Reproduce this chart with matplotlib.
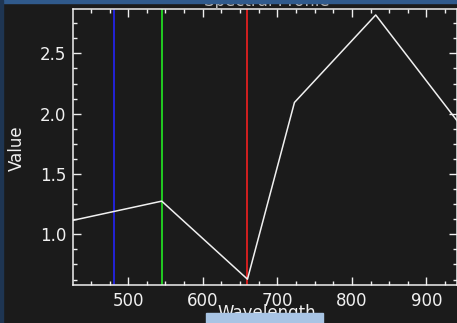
import matplotlib
matplotlib.use("Agg")
import matplotlib.pyplot as plt
from matplotlib.patches import Rectangle
from matplotlib.ticker import MultipleLocator

# spectral profile
wavelength = [426, 545, 660, 723, 832, 941]
value = [1.116, 1.275, 0.628, 2.093, 2.818, 1.942]

# band markers
band_pos = [481, 545, 660]
band_colors = ["#2323d8", "#22cc22", "#d42020"]

W, H = 457, 323
fig = plt.figure(figsize=(W / 100, H / 100), dpi=100)
fig.patch.set_facecolor("#1b1b1b")

ax = fig.add_axes([73 / W, (H - 285) / H, (W - 73) / W, (285 - 9.3) / H])
ax.set_facecolor("#1b1b1b")

for pos, col in zip(band_pos, band_colors):
    ax.axvline(pos, color=col, lw=1.4)
ax.plot(wavelength, value, color="#f0f0f0", lw=1.1)

ax.set_xlim(426, 941)
ax.set_ylim(0.58, 2.865)
ax.xaxis.set_major_locator(MultipleLocator(100))
ax.xaxis.set_minor_locator(MultipleLocator(25))
ax.yaxis.set_major_locator(MultipleLocator(0.5))
ax.yaxis.set_minor_locator(MultipleLocator(0.125))

for s in ax.spines.values():
    s.set_color("#f0f0f0")
    s.set_linewidth(1.1)
ax.tick_params(which="both", direction="in", top=True, right=True,
               colors="#f0f0f0", width=1.0, labelsize=12)
ax.tick_params(which="major", length=5.5)
ax.tick_params(which="minor", length=2.8)
ax.tick_params(axis="x", pad=5)
ax.tick_params(axis="y", pad=5)

fig.text(17 / W, 1 - 148 / H, "Value", rotation=90, ha="center", va="center",
         color="#f0f0f0", fontsize=12)
fig.text(267 / W, 1 - 304 / H, "Wavelength", ha="center", va="top",
         color="#f0f0f0", fontsize=12)
# title mostly hidden under the window bar, as in the screenshot
fig.text(267 / W, 1 - 6 / H, "Spectral Profile", ha="center", va="baseline",
         color="#b8b8b8", fontsize=12)

# window chrome around the plot
fig.add_artist(Rectangle((0, 1 - 3 / H), 1, 3 / H, transform=fig.transFigure,
                         color="#305a8c", zorder=10))
fig.add_artist(Rectangle((0, 0), 3 / W, 1, transform=fig.transFigure,
                         color="#1e3552", zorder=10))
fig.add_artist(Rectangle((206 / W, 0), (323 - 206) / W, 10 / H,
                         transform=fig.transFigure, color="#a8c4e4", zorder=10))

fig.savefig("out.png", dpi=100, facecolor=fig.get_facecolor())
plt.close(fig)
